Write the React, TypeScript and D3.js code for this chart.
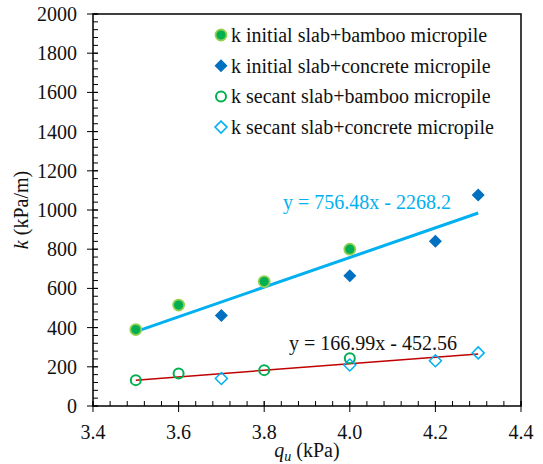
import React from "react";
import * as d3 from "d3";

const xInitBamboo = [3.5, 3.6, 3.8, 4.0];
const yInitBamboo = [390, 515, 635, 800];
const xInitConcrete = [3.7, 4.0, 4.2, 4.3];
const yInitConcrete = [462, 665, 840, 1077];
const xSecBamboo = [3.5, 3.6, 3.8, 4.0];
const ySecBamboo = [132, 166, 183, 244];
const xSecConcrete = [3.7, 4.0, 4.2, 4.3];
const ySecConcrete = [140, 209, 231, 271];
const trendInitial = { slope: 756.48, intercept: -2268.2, x0: 3.5, x1: 4.3 };
const trendSecant = { slope: 166.99, intercept: -452.56, x0: 3.5, x1: 4.3 };
const xTicks = [3.4, 3.6, 3.8, 4.0, 4.2, 4.4];
const yTicks = [0, 200, 400, 600, 800, 1000, 1200, 1400, 1600, 1800, 2000];
const legendLabels = [
  "k initial slab+bamboo micropile",
  "k initial slab+concrete micropile",
  "k secant slab+bamboo micropile",
  "k secant slab+concrete micropile",
];

const W = 543, H = 464;
const L = 93, R = 521, T = 14, B = 406;
const TS: React.CSSProperties = { fontFamily: "Liberation Serif", fontSize: 20 };

export default function App() {
  const x = d3.scaleLinear().domain([3.4, 4.4]).range([L, R]);
  const y = d3.scaleLinear().domain([0, 2000]).range([B, T]);
  const xMinor = d3.range(0, 26).map((i) => 3.4 + i * 0.04);
  const yMinor = d3.range(0, 51).map((i) => i * 40);
  const diamond = (cx: number, cy: number, s: number) =>
    `M${cx},${cy - s}L${cx + s},${cy}L${cx},${cy + s}L${cx - s},${cy}Z`;
  const trendPath = (t: typeof trendInitial) =>
    d3.line<number>().x((d) => x(d)).y((d) => y(t.slope * d + t.intercept))([t.x0, t.x1]) || "";

  const mkFilledCircle = (cx: number, cy: number, k: string) => (
    <circle key={k} cx={cx} cy={cy} r={5.5} fill="#00B050" stroke="#92D050" strokeWidth={1.8} />
  );
  const mkOpenCircle = (cx: number, cy: number, k: string) => (
    <circle key={k} cx={cx} cy={cy} r={5} fill="none" stroke="#00B050" strokeWidth={2} />
  );
  const mkFilledDiamond = (cx: number, cy: number, k: string) => (
    <path key={k} d={diamond(cx, cy, 6.5)} fill="#0070C0" />
  );
  const mkOpenDiamond = (cx: number, cy: number, k: string) => (
    <path key={k} d={diamond(cx, cy, 6)} fill="none" stroke="#00B0F0" strokeWidth={1.5} />
  );
  const markers = [mkFilledCircle, mkFilledDiamond, mkOpenCircle, mkOpenDiamond];

  return (
    <svg width={W} height={H} style={{ position: "absolute", left: 0, top: 0, background: "#fff" }}>
      {yMinor.map((v, i) => (
        <line key={"ym" + i} x1={L} x2={L + 5} y1={y(v)} y2={y(v)} stroke="#000" strokeWidth={1} />
      ))}
      {xMinor.map((v, i) => (
        <line key={"xm" + i} x1={x(v)} x2={x(v)} y1={B} y2={B - 5} stroke="#000" strokeWidth={1} />
      ))}
      {yTicks.map((v) => (
        <g key={"yt" + v}>
          <line x1={L - 6} x2={L + 5} y1={y(v)} y2={y(v)} stroke="#000" strokeWidth={1} />
          <text x={L - 16} y={y(v)} dy="0.35em" textAnchor="end" style={TS} fill="#111">{v}</text>
        </g>
      ))}
      {xTicks.map((v) => (
        <g key={"xt" + v}>
          <line x1={x(v)} x2={x(v)} y1={B - 5} y2={B + 6} stroke="#000" strokeWidth={1} />
          <text x={x(v)} y={B + 26} dy="0.35em" textAnchor="middle" style={TS} fill="#111">{v.toFixed(1)}</text>
        </g>
      ))}
      <rect x={L} y={T} width={R - L} height={B - T} fill="none" stroke="#000" strokeWidth={1.5} />

      <path d={trendPath(trendSecant)} stroke="#C00000" strokeWidth={1.5} fill="none" />
      <path d={trendPath(trendInitial)} stroke="#00B0F0" strokeWidth={3} fill="none" />

      {xInitBamboo.map((v, i) => mkFilledCircle(x(v), y(yInitBamboo[i]), "ib" + i))}
      {xInitConcrete.map((v, i) => mkFilledDiamond(x(v), y(yInitConcrete[i]), "ic" + i))}
      {xSecBamboo.map((v, i) => mkOpenCircle(x(v), y(ySecBamboo[i]), "sb" + i))}
      {xSecConcrete.map((v, i) => mkOpenDiamond(x(v), y(ySecConcrete[i]), "sc" + i))}

      <text x={283} y={202} dy="0.35em" style={TS} fill="#00B0F0">y = 756.48x - 2268.2</text>
      <text x={289} y={343} dy="0.35em" style={TS} fill="#111">y = 166.99x - 452.56</text>

      {legendLabels.map((lab, i) => {
        const cy = 35 + i * 30.7;
        return (
          <g key={"lg" + i}>
            {markers[i](221, cy, "lm" + i)}
            <text x={231} y={cy} dy="0.35em" style={TS} fill="#111">{lab}</text>
          </g>
        );
      })}

      <text transform={`translate(21,${(T + B) / 2}) rotate(-90)`} textAnchor="middle" dy="0.35em" style={TS} fill="#111">
        <tspan fontStyle="italic">k</tspan> (kPa/m)
      </text>
      <text x={(L + R) / 2} y={450} textAnchor="middle" dy="0.35em" style={TS} fill="#111">
        <tspan fontStyle="italic">q</tspan>
        <tspan fontStyle="italic" style={{ fontSize: 14 }} dy="4">u</tspan>
        <tspan dy="-4"> (kPa)</tspan>
      </text>
    </svg>
  );
}
